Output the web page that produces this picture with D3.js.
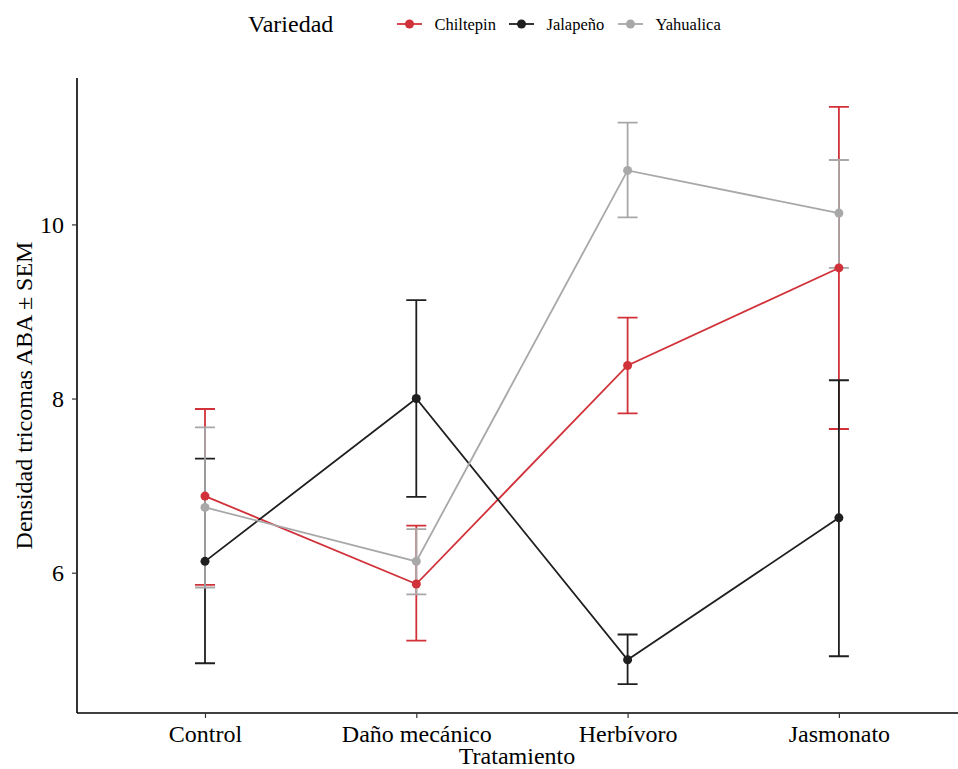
<!DOCTYPE html>
<html>
<head>
<meta charset="utf-8">
<script src="https://cdn.jsdelivr.net/npm/d3@7"></script>
<style>
  body { margin: 0; background: #fff; }
  text { font-family: 'Liberation Serif', 'Times New Roman', serif; fill: #000; }
</style>
</head>
<body>
<main></main>
<script>
const treatments = ['Control', 'Daño mecánico', 'Herbívoro', 'Jasmonato'];
const varieties = ['Chiltepin', 'Jalapeño', 'Yahualica'];
const colors = ['#d1323a', '#1f1f1f', '#a8a8a8'];

// means and SEM error limits per variety, in treatment order
const chiltepinMean = [6.88, 5.87, 8.38, 9.50];
const chiltepinLow = [5.86, 5.22, 7.83, 7.65];
const chiltepinHigh = [7.88, 6.54, 8.93, 11.35];

const jalapenoMean = [6.13, 8.00, 5.00, 6.63];
const jalapenoLow = [4.96, 6.87, 4.72, 5.04];
const jalapenoHigh = [7.31, 9.13, 5.29, 8.21];

const yahualicaMean = [6.75, 6.13, 10.62, 10.13];
const yahualicaLow = [5.83, 5.75, 10.08, 9.50];
const yahualicaHigh = [7.67, 6.50, 11.17, 10.74];

const yTicks = [6, 8, 10];

const series = [
  { name: varieties[0], color: colors[0], mean: chiltepinMean, low: chiltepinLow, high: chiltepinHigh },
  { name: varieties[1], color: colors[1], mean: jalapenoMean, low: jalapenoLow, high: jalapenoHigh },
  { name: varieties[2], color: colors[2], mean: yahualicaMean, low: yahualicaLow, high: yahualicaHigh }
].map(s => ({
  ...s,
  values: treatments.map((t, i) => ({ t, mean: s.mean[i], low: s.low[i], high: s.high[i] }))
}));

const width = 958;
const height = 769;
const margin = { top: 78, right: 0, bottom: 56, left: 77 };

const svg = d3.select('main')
  .append('svg')
  .attr('width', width)
  .attr('height', height)

// scales (ggplot-like expansion)
const allVals = series.flatMap(s => s.low.concat(s.high));
const yMin = d3.min(allVals);
const yMax = d3.max(allVals);
const pad = (yMax - yMin) * 0.05;

const y = d3.scaleLinear()
  .domain([yMin - pad, yMax + pad])
  .range([height - margin.bottom, margin.top])

const step = 211.3;
const xIdx = d3.scaleLinear()
  .domain([0.4, 4.6])
  .range([205 - 0.6 * step, 205 + 3.6 * step])
const x = t => xIdx(treatments.indexOf(t) + 1);

// axes
const yAxis = d3.axisLeft(y)
  .tickValues(yTicks)
  .tickSize(5)
  .tickPadding(8)

const gy = svg.append('g')
  .attr('transform', `translate(${margin.left},0)`)
  .call(yAxis)
gy.select('.domain').attr('stroke', '#000').attr('stroke-width', 1.6)
  .attr('d', `M0,${y.range()[1]}V${y.range()[0]}`)
gy.selectAll('.tick line').attr('stroke', '#333').attr('stroke-width', 1.2)
gy.selectAll('.tick text').style('font-size', '24px').style('fill', '#000')

const xAxis = d3.axisBottom(xIdx)
  .tickValues([1, 2, 3, 4])
  .tickFormat(d => treatments[d - 1])
  .tickSize(5)
  .tickPadding(7)

const gx = svg.append('g')
  .attr('transform', `translate(0,${height - margin.bottom})`)
  .call(xAxis)
gx.select('.domain').attr('stroke', '#000').attr('stroke-width', 1.6)
  .attr('d', `M${margin.left},0H${width}`)
gx.selectAll('.tick line').attr('stroke', '#333').attr('stroke-width', 1.2)
gx.selectAll('.tick text').style('font-size', '24px').style('fill', '#000')

// axis titles
svg.append('text')
  .attr('x', 517)
  .attr('y', 764)
  .attr('text-anchor', 'middle')
  .style('font-size', '24px')
  .text('Tratamiento')

svg.append('text')
  .attr('transform', `translate(32,${(margin.top + height - margin.bottom) / 2}) rotate(-90)`)
  .attr('text-anchor', 'middle')
  .style('font-size', '24px')
  .text('Densidad tricomas ABA ± SEM')

// lines
const line = d3.line()
  .x(d => x(d.t))
  .y(d => y(d.mean))

svg.append('g')
  .selectAll('path')
  .data(series)
  .enter()
  .append('path')
  .attr('d', d => line(d.values))
  .style('fill', 'none')
  .style('stroke', d => d.color)
  .style('stroke-width', 1.8)

// error bars
const capW = 10;
series.forEach(s => {
  const g = svg.append('g')
    .style('stroke', s.color)
    .style('stroke-width', 1.8)
    .style('fill', 'none')
  g.selectAll('path')
    .data(s.values)
    .enter()
    .append('path')
    .attr('d', d => {
      const cx = x(d.t);
      return `M${cx - capW},${y(d.high)}H${cx + capW}M${cx},${y(d.high)}V${y(d.low)}M${cx - capW},${y(d.low)}H${cx + capW}`;
    })
})

// points
series.forEach(s => {
  svg.append('g')
    .selectAll('circle')
    .data(s.values)
    .enter()
    .append('circle')
    .attr('cx', d => x(d.t))
    .attr('cy', d => y(d.mean))
    .attr('r', 4.5)
    .style('fill', s.color)
})

// legend
const legend = svg.append('g')

legend.append('text')
  .attr('x', 248)
  .attr('y', 32)
  .style('font-size', '24px')
  .text('Variedad')

const legendX = [397, 509, 618];
const legendItems = legend.selectAll('g.item')
  .data(series)
  .enter()
  .append('g')
  .attr('class', 'item')
  .attr('transform', (d, i) => `translate(${legendX[i]},24)`)

legendItems.append('line')
  .attr('x1', 0)
  .attr('x2', 25)
  .style('stroke', d => d.color)
  .style('stroke-width', 1.8)

legendItems.append('circle')
  .attr('cx', 12.5)
  .attr('r', 4.5)
  .style('fill', d => d.color)

legendItems.append('text')
  .attr('x', 37.5)
  .attr('y', 6)
  .style('font-size', '16.5px')
  .text(d => d.name)
</script>
</body>
</html>
